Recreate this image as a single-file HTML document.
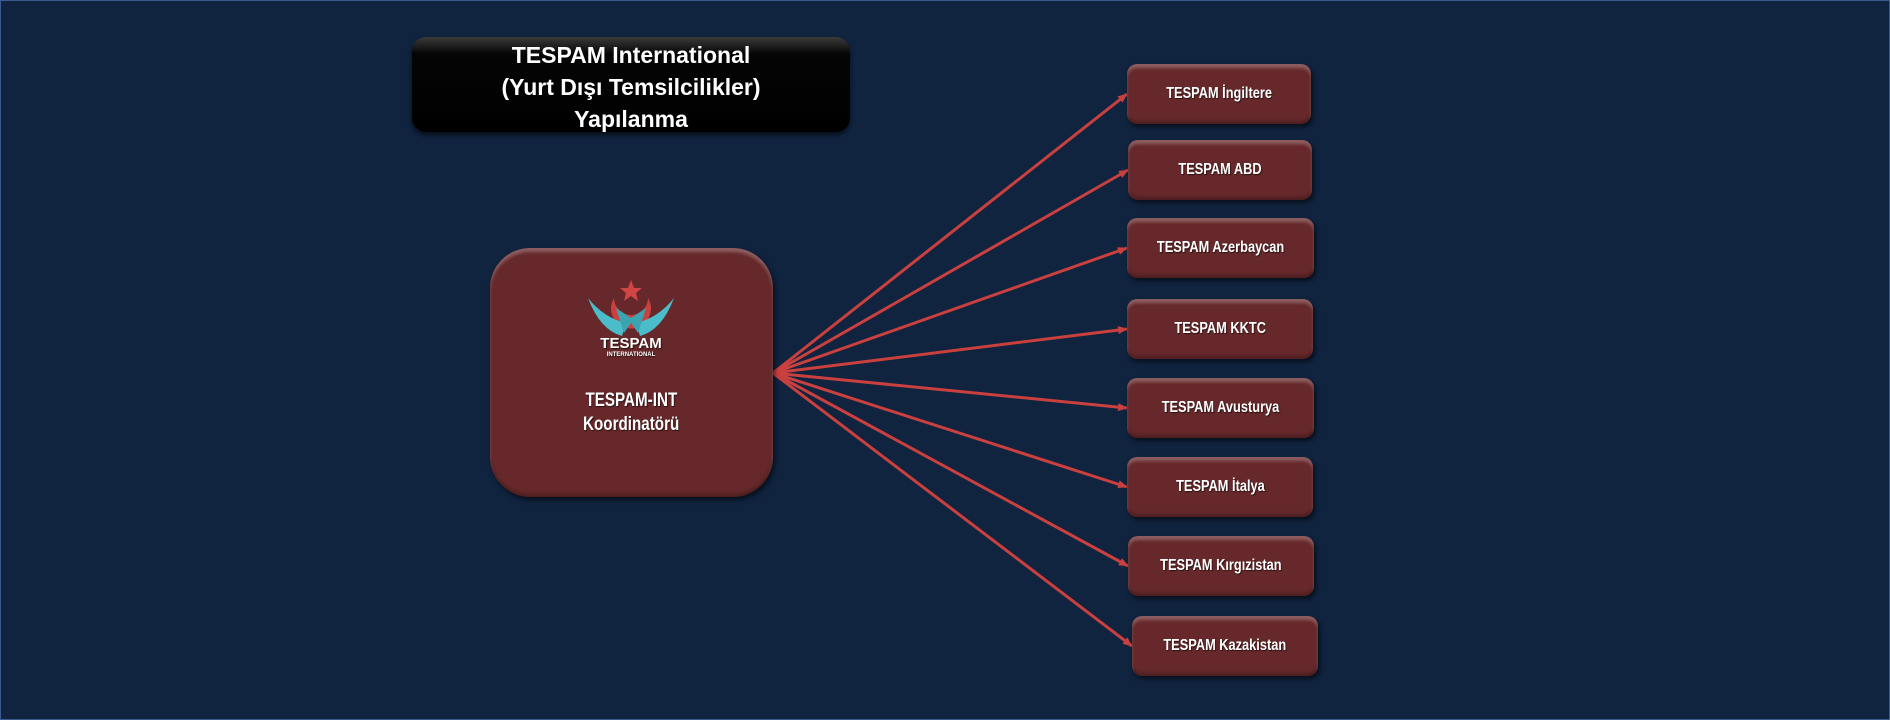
<!DOCTYPE html>
<html><head><meta charset="utf-8"><style>
body{margin:0;width:1890px;height:720px;overflow:hidden;background:#10233f;font-family:"Liberation Sans",sans-serif;}
.frame{position:absolute;left:0;top:0;width:1888px;height:718px;border:1px solid #3a5a8c;}
.title{position:absolute;left:412px;top:37px;width:438px;height:95px;border-radius:14px;background:linear-gradient(#3a3a3a 0%,#050505 18%,#000 100%);box-shadow:0 3px 5px rgba(0,0,0,.6);color:#fff;text-align:center;font-weight:bold;font-size:23px;line-height:32px;box-sizing:border-box;padding-top:2px}
.box{position:absolute;background:#66282a;border-radius:10px;box-shadow:2px 3px 5px rgba(0,0,0,.55), inset 0 4px 3px rgba(255,255,255,.25), inset 0 -3px 3px rgba(0,0,0,.25);color:#fff;font-family:"Liberation Sans",sans-serif;font-weight:bold;text-align:center;text-shadow:1px 1px 1px rgba(0,0,0,.6)}
.box span{display:inline-block;transform:scaleX(0.8);white-space:nowrap}
.s{width:184px;height:60px;line-height:60px;font-size:16px}
.big{left:490px;top:248px;width:283px;height:249px;border-radius:40px;font-size:19px;line-height:24px}
</style></head><body>
<div class="frame"></div>
<div class="title">TESPAM International<br>(Yurt Dışı Temsilcilikler)<br>Yapılanma</div>
<svg width="1890" height="720" style="position:absolute;left:0;top:0">
<defs><marker id="a" markerWidth="10" markerHeight="8" refX="9" refY="4" orient="auto" markerUnits="userSpaceOnUse"><path d="M0,0 L10,4 L0,8 z" fill="#c9403f"/></marker></defs>
<g stroke="#c9403f" stroke-width="3" marker-end="url(#a)" fill="none">
<line x1="773" y1="373" x2="1127" y2="94"/>
<line x1="773" y1="373" x2="1128" y2="170"/>
<line x1="773" y1="373" x2="1127" y2="248"/>
<line x1="773" y1="373" x2="1127" y2="329"/>
<line x1="773" y1="373" x2="1127" y2="408"/>
<line x1="773" y1="373" x2="1127" y2="487"/>
<line x1="773" y1="373" x2="1128" y2="566"/>
<line x1="773" y1="373" x2="1132" y2="646"/>
</g></svg>
<div class="box big">
<svg width="90" height="80" style="position:absolute;left:96px;top:30px" viewBox="0 0 90 80">
<polygon points="45,2 48,10 56,10 50,15 52,23 45,18 38,23 40,15 34,10 42,10" fill="#d24545"/>
<path d="M28,20 A20,20 0 1 0 62,20 A17,17 0 1 1 28,20z" fill="#c9403f"/>
<path d="M2,20 Q18,40 40,45 L36,58 Q14,52 2,20z M88,20 Q72,40 50,45 L54,58 Q76,52 88,20z" fill="#4bbcc9"/>
<path d="M30,30 L45,40 L60,30 L52,55 L45,45 L38,55z" fill="#3aa5b0"/>
<text x="45" y="70" fill="#fff" font-size="15" font-weight="bold" text-anchor="middle" font-family="Liberation Sans">TESPAM</text>
<text x="45" y="78" fill="#fff" font-size="6" font-weight="bold" text-anchor="middle" font-family="Liberation Sans">INTERNATIONAL</text>
</svg>
<div style="position:absolute;left:0;right:0;top:141px"><span>TESPAM-INT</span><br><span>Koordinatörü</span></div>
</div>
<div class="box s" style="left:1127px;top:64px"><span>TESPAM İngiltere</span></div>
<div class="box s" style="left:1128px;top:140px"><span>TESPAM ABD</span></div>
<div class="box s" style="left:1127px;top:218px;width:187px"><span>TESPAM Azerbaycan</span></div>
<div class="box s" style="left:1127px;top:299px;width:186px"><span>TESPAM KKTC</span></div>
<div class="box s" style="left:1127px;top:378px;width:187px"><span>TESPAM Avusturya</span></div>
<div class="box s" style="left:1127px;top:457px;width:186px"><span>TESPAM İtalya</span></div>
<div class="box s" style="left:1128px;top:536px;width:186px"><span>TESPAM Kırgızistan</span></div>
<div class="box s" style="left:1132px;top:616px;width:186px"><span>TESPAM Kazakistan</span></div>
</body></html>
